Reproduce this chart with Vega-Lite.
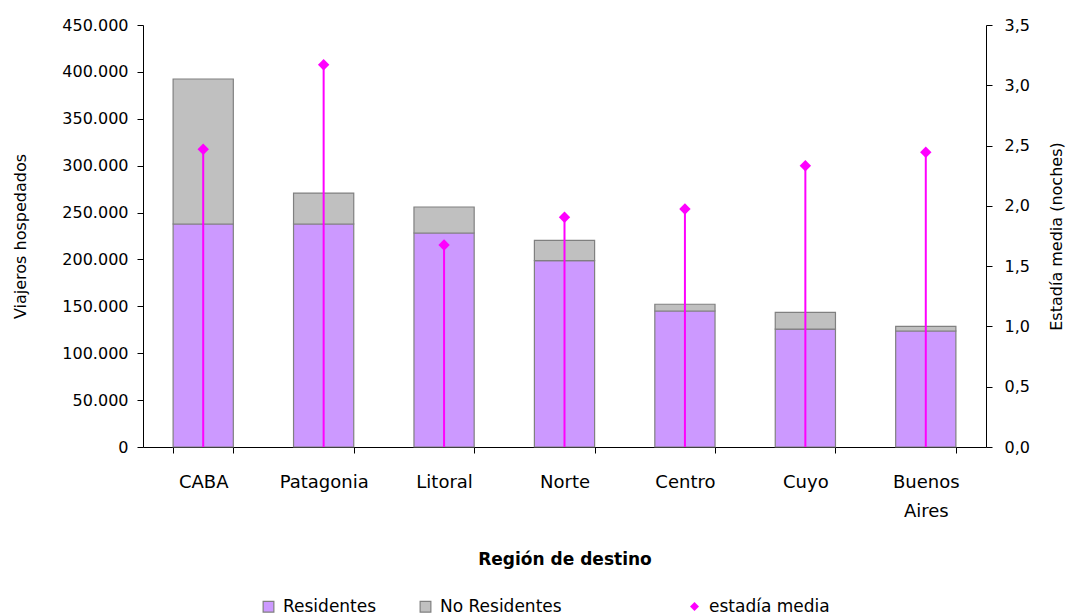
{
  "$schema": "https://vega.github.io/schema/vega-lite/v6.json",
  "description": "Viajeros hospedados por región de destino (residentes / no residentes) y estadía media en noches.",
  "width": 843,
  "height": 422,
  "autosize": {"type": "none"},
  "padding": {"left": 143, "top": 25, "right": 80, "bottom": 168},
  "datasets": {
    "viajeros": [
      {"region": "CABA", "serie": "Residentes", "viajeros": 237800},
      {"region": "CABA", "serie": "No Residentes", "viajeros": 154600},
      {"region": "Patagonia", "serie": "Residentes", "viajeros": 237800},
      {"region": "Patagonia", "serie": "No Residentes", "viajeros": 33000},
      {"region": "Litoral", "serie": "Residentes", "viajeros": 228200},
      {"region": "Litoral", "serie": "No Residentes", "viajeros": 27700},
      {"region": "Norte", "serie": "Residentes", "viajeros": 198700},
      {"region": "Norte", "serie": "No Residentes", "viajeros": 21700},
      {"region": "Centro", "serie": "Residentes", "viajeros": 145000},
      {"region": "Centro", "serie": "No Residentes", "viajeros": 7200},
      {"region": "Cuyo", "serie": "Residentes", "viajeros": 125800},
      {"region": "Cuyo", "serie": "No Residentes", "viajeros": 17800},
      {"region": "Buenos Aires", "serie": "Residentes", "viajeros": 123700},
      {"region": "Buenos Aires", "serie": "No Residentes", "viajeros": 5000}
    ],
    "estadia": [
      {"region": "CABA", "estadia": 2.47},
      {"region": "Patagonia", "estadia": 3.17},
      {"region": "Litoral", "estadia": 1.675},
      {"region": "Norte", "estadia": 1.905},
      {"region": "Centro", "estadia": 1.974},
      {"region": "Cuyo", "estadia": 2.333},
      {"region": "Buenos Aires", "estadia": 2.444}
    ]
  },
  "encoding": {
    "x": {
      "field": "region",
      "type": "nominal",
      "sort": ["CABA", "Patagonia", "Litoral", "Norte", "Centro", "Cuyo", "Buenos Aires"],
      "scale": {"paddingInner": 0.5, "paddingOuter": 0.25},
      "title": "Región de destino",
      "axis": {
        "tickBand": "extent",
        "labelAngle": 0,
        "labelFontSize": 18,
        "labelPadding": 20,
        "tickSize": 6,
        "labelExpr": "datum.label == 'Buenos Aires' ? ['Buenos', 'Aires'] : datum.label",
        "labelLineHeight": 29,
        "titleFontSize": 17,
        "titleFontWeight": "bold",
        "minExtent": 100,
        "maxExtent": 100,
        "titlePadding": 4
      }
    }
  },
  "layer": [
    {
      "data": {"name": "viajeros"},
      "mark": {"type": "bar", "stroke": "#808080", "strokeWidth": 1.2},
      "encoding": {
        "y": {
          "field": "viajeros",
          "type": "quantitative",
          "stack": "zero",
          "title": "Viajeros hospedados",
          "scale": {"domain": [0, 450000]},
          "axis": {
            "values": [0, 50000, 100000, 150000, 200000, 250000, 300000, 350000, 400000, 450000],
            "format": ",d",
            "labelFontSize": 16,
            "tickSize": 6,
            "labelPadding": 9,
            "minExtent": 110,
            "maxExtent": 110,
            "titlePadding": 5,
            "titleFontSize": 16,
            "titleFontWeight": "normal"
          }
        },
        "color": {
          "field": "serie",
          "type": "nominal",
          "scale": {
            "domain": ["Residentes", "No Residentes"],
            "range": ["#CC99FF", "#C0C0C0"]
          },
          "legend": {
            "orient": "none",
            "legendX": 117,
            "legendY": 573,
            "direction": "horizontal",
            "title": null,
            "padding": 0,
            "symbolType": "square",
            "symbolSize": 115,
            "symbolStrokeColor": "#808080",
            "symbolStrokeWidth": 1.2,
            "labelFontSize": 17,
            "labelOffset": 6,
            "columnPadding": 40
          }
        },
        "order": {"field": "serie", "sort": "descending"}
      }
    },
    {
      "data": {"name": "estadia"},
      "encoding": {
        "y": {
          "field": "estadia",
          "type": "quantitative",
          "title": "Estadía media (noches)",
          "scale": {"domain": [0, 3.5]},
          "axis": {
            "orient": "right",
            "values": [0, 0.5, 1, 1.5, 2, 2.5, 3, 3.5],
            "format": ".1f",
            "labelFontSize": 16,
            "tickSize": 6,
            "labelPadding": 12,
            "minExtent": 55,
            "maxExtent": 55,
            "titlePadding": 7,
            "titleFontSize": 16,
            "titleFontWeight": "normal",
            "titleAngle": 270,
            "titleBaseline": "top"
          }
        }
      },
      "layer": [
        {
          "mark": {"type": "rule", "color": "#FF00FF", "strokeWidth": 2},
          "encoding": {"y2": {"datum": 0}}
        },
        {
          "mark": {"type": "point", "filled": true, "size": 130, "opacity": 1, "color": "#FF00FF"},
          "encoding": {
            "shape": {
              "datum": "estadía media",
              "scale": {"domain": ["estadía media"], "range": ["diamond"]},
              "legend": {
                "orient": "none",
                "legendX": 543,
                "legendY": 573,
                "direction": "horizontal",
                "title": null,
                "padding": 0,
                "symbolSize": 80,
                "symbolFillColor": "#FF00FF",
                "symbolStrokeWidth": 0,
                "labelFontSize": 17,
                "labelOffset": 6
              }
            }
          }
        }
      ]
    }
  ],
  "resolve": {"scale": {"y": "independent"}},
  "config": {
    "font": "DejaVu Sans",
    "view": {"stroke": null},
    "locale": {
      "number": {"decimal": ",", "thousands": ".", "grouping": [3], "currency": ["$", ""]}
    },
    "axis": {
      "grid": false,
      "labelColor": "#000",
      "titleColor": "#000",
      "domainColor": "#000",
      "tickColor": "#000",
      "labelFont": "DejaVu Sans",
      "titleFont": "DejaVu Sans"
    },
    "legend": {"labelFont": "DejaVu Sans", "labelColor": "#000"}
  }
}
